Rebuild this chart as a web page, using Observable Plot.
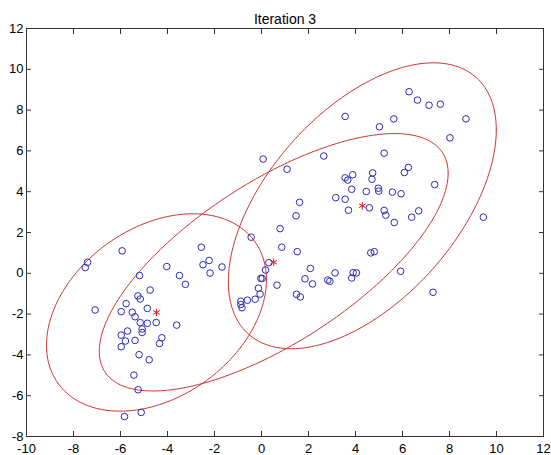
<!DOCTYPE html>
<html><head><meta charset="utf-8">
<script src="https://cdn.jsdelivr.net/npm/d3@7"></script>
<script src="https://cdn.jsdelivr.net/npm/@observablehq/plot@0.6"></script>
<style>body{margin:0;background:#fff}</style>
</head><body><div id="chart"></div>
<script>
const title = "Iteration 3";
const xTicks = [-10, -8, -6, -4, -2, 0, 2, 4, 6, 8, 10, 12];
const yTicks = [-8, -6, -4, -2, 0, 2, 4, 6, 8, 10, 12];

// data points (blue circles)
const pointX = [
  -7.50, -7.40, -5.93, -7.08, -5.19, -4.03, -3.49, -3.24, -2.56, -2.49, -2.23, -2.19, -1.68, -0.44,
  -4.74, -5.26, -5.16, -5.76, -4.86, -5.97, -5.50, -5.38, -5.16, -4.86, -4.48, -5.08, -5.08, -5.70,
  -5.97, -5.79, -5.38, -5.97, -4.24, -4.34, -3.61, -5.21, -4.78, -5.43, -5.25, -5.83, -5.12,
  -0.88, -0.88, -0.83, -0.60, -0.27, -0.06, -0.13, -0.03, 0.03, 0.17, 0.31, 0.66, 0.07,
  0.79, 0.86, 1.52, 1.47, 1.62, 1.09, 2.65, 3.16, 2.08, 1.85, 2.17, 1.49, 1.65,
  2.82, 2.91, 3.13, 3.84, 3.90, 4.04, 4.65, 4.80, 5.92, 7.30,
  6.28, 6.64, 7.13, 7.61, 8.70, 3.56, 5.02, 5.63, 8.02, 5.22,
  3.56, 3.67, 3.88, 4.73, 4.70, 6.08, 6.25, 7.37, 3.84, 4.46, 4.97, 4.99, 5.57, 5.94,
  3.56, 3.70, 4.59, 5.22, 5.29, 5.65, 6.39, 6.69, 9.44
];
const pointY = [
  0.28, 0.54, 1.10, -1.80, -0.11, 0.33, -0.11, -0.54, 1.28, 0.42, 0.63, 0.01, 0.31, 1.77,
  -0.82, -1.11, -1.26, -1.49, -1.72, -1.88, -1.91, -2.13, -2.42, -2.45, -2.41, -2.73, -2.90, -2.83,
  -3.03, -3.32, -3.29, -3.60, -3.16, -3.44, -2.54, -3.99, -4.24, -4.99, -5.71, -7.02, -6.82,
  -1.37, -1.53, -1.69, -1.32, -1.27, -1.02, -0.73, -0.25, -0.25, 0.16, 0.52, -0.58, 5.60,
  2.19, 1.28, 1.06, 2.82, 3.48, 5.10, 5.75, 3.71, 0.24, -0.27, -0.52, -1.03, -1.16,
  -0.33, -0.39, 0.02, -0.23, 0.03, 0.02, 1.00, 1.06, 0.10, -0.93,
  8.90, 8.49, 8.24, 8.29, 7.57, 7.69, 7.18, 7.57, 6.64, 5.89,
  4.68, 4.57, 4.83, 4.92, 4.61, 4.94, 5.19, 4.35, 4.12, 4.01, 4.17, 4.03, 3.98, 3.90,
  3.63, 3.09, 3.21, 3.08, 2.85, 2.49, 2.75, 3.06, 2.75
];

// Gaussian components: means (red asterisks) and covariance of drawn contour
const centerX = [-4.47, 0.52, 4.29];
const centerY = [-1.92, 0.54, 3.31];
const covXX = [21.9, 55.1, 32.5];
const covXY = [7.5, 32.4, 21.2];
const covYY = [23.4, 39.8, 49.1];

const points = pointX.map((x, i) => ({x, y: pointY[i]}));
const centers = centerX.map((x, i) => ({x, y: centerY[i]}));

// ellipse outline from mean + covariance (Cholesky)
const ellipse = [];
centerX.forEach((cx, k) => {
  const l11 = Math.sqrt(covXX[k]);
  const l21 = covXY[k] / l11;
  const l22 = Math.sqrt(covYY[k] - l21 * l21);
  const n = 240;
  for (let i = 0; i <= n; i++) {
    const t = 2 * Math.PI * i / n;
    ellipse.push({k, x: cx + l11 * Math.cos(t), y: centerY[k] + l21 * Math.cos(t) + l22 * Math.sin(t)});
  }
});

const red = "#cc3333";
const chart = Plot.plot({
  width: 551,
  height: 455,
  marginLeft: 26,
  marginRight: 8,
  marginTop: 28,
  marginBottom: 19,
  style: {fontFamily: "'Liberation Sans', Arial, sans-serif", fontSize: "13px", background: "white", color: "#000"},
  x: {domain: [-10, 12]},
  y: {domain: [-8, 12]},
  marks: [
    Plot.frame({stroke: "#333", strokeWidth: 1}),
    Plot.axisX({anchor: "bottom", ticks: xTicks, tickFormat: d => String(d), tickSize: -5, tickPadding: 12.3, fontSize: 13, label: null, stroke: "#333"}),
    Plot.axisX({anchor: "top", ticks: xTicks, tickFormat: () => "", tickSize: -5, label: null, stroke: "#333"}),
    Plot.axisY({anchor: "left", ticks: yTicks, tickFormat: d => String(d), tickSize: -5, tickPadding: 8, fontSize: 13, label: null, stroke: "#333"}),
    Plot.axisY({anchor: "right", ticks: yTicks, tickFormat: () => "", tickSize: -5, label: null, stroke: "#333"}),
    Plot.line(ellipse, {x: "x", y: "y", z: "k", stroke: red, strokeWidth: 1, curve: "linear"}),
    Plot.dot(points, {x: "x", y: "y", r: 3.3, stroke: "#2b2bb0", strokeWidth: 1, fill: "none"}),
    Plot.dot(centers, {x: "x", y: "y", symbol: "asterisk", r: 3.5, stroke: "#e01010", strokeWidth: 1}),
    Plot.text([title], {frameAnchor: "top", dy: -14, fontSize: 14, fill: "#000"})
  ]
});
document.getElementById("chart").appendChild(chart);
</script>
</body></html>
